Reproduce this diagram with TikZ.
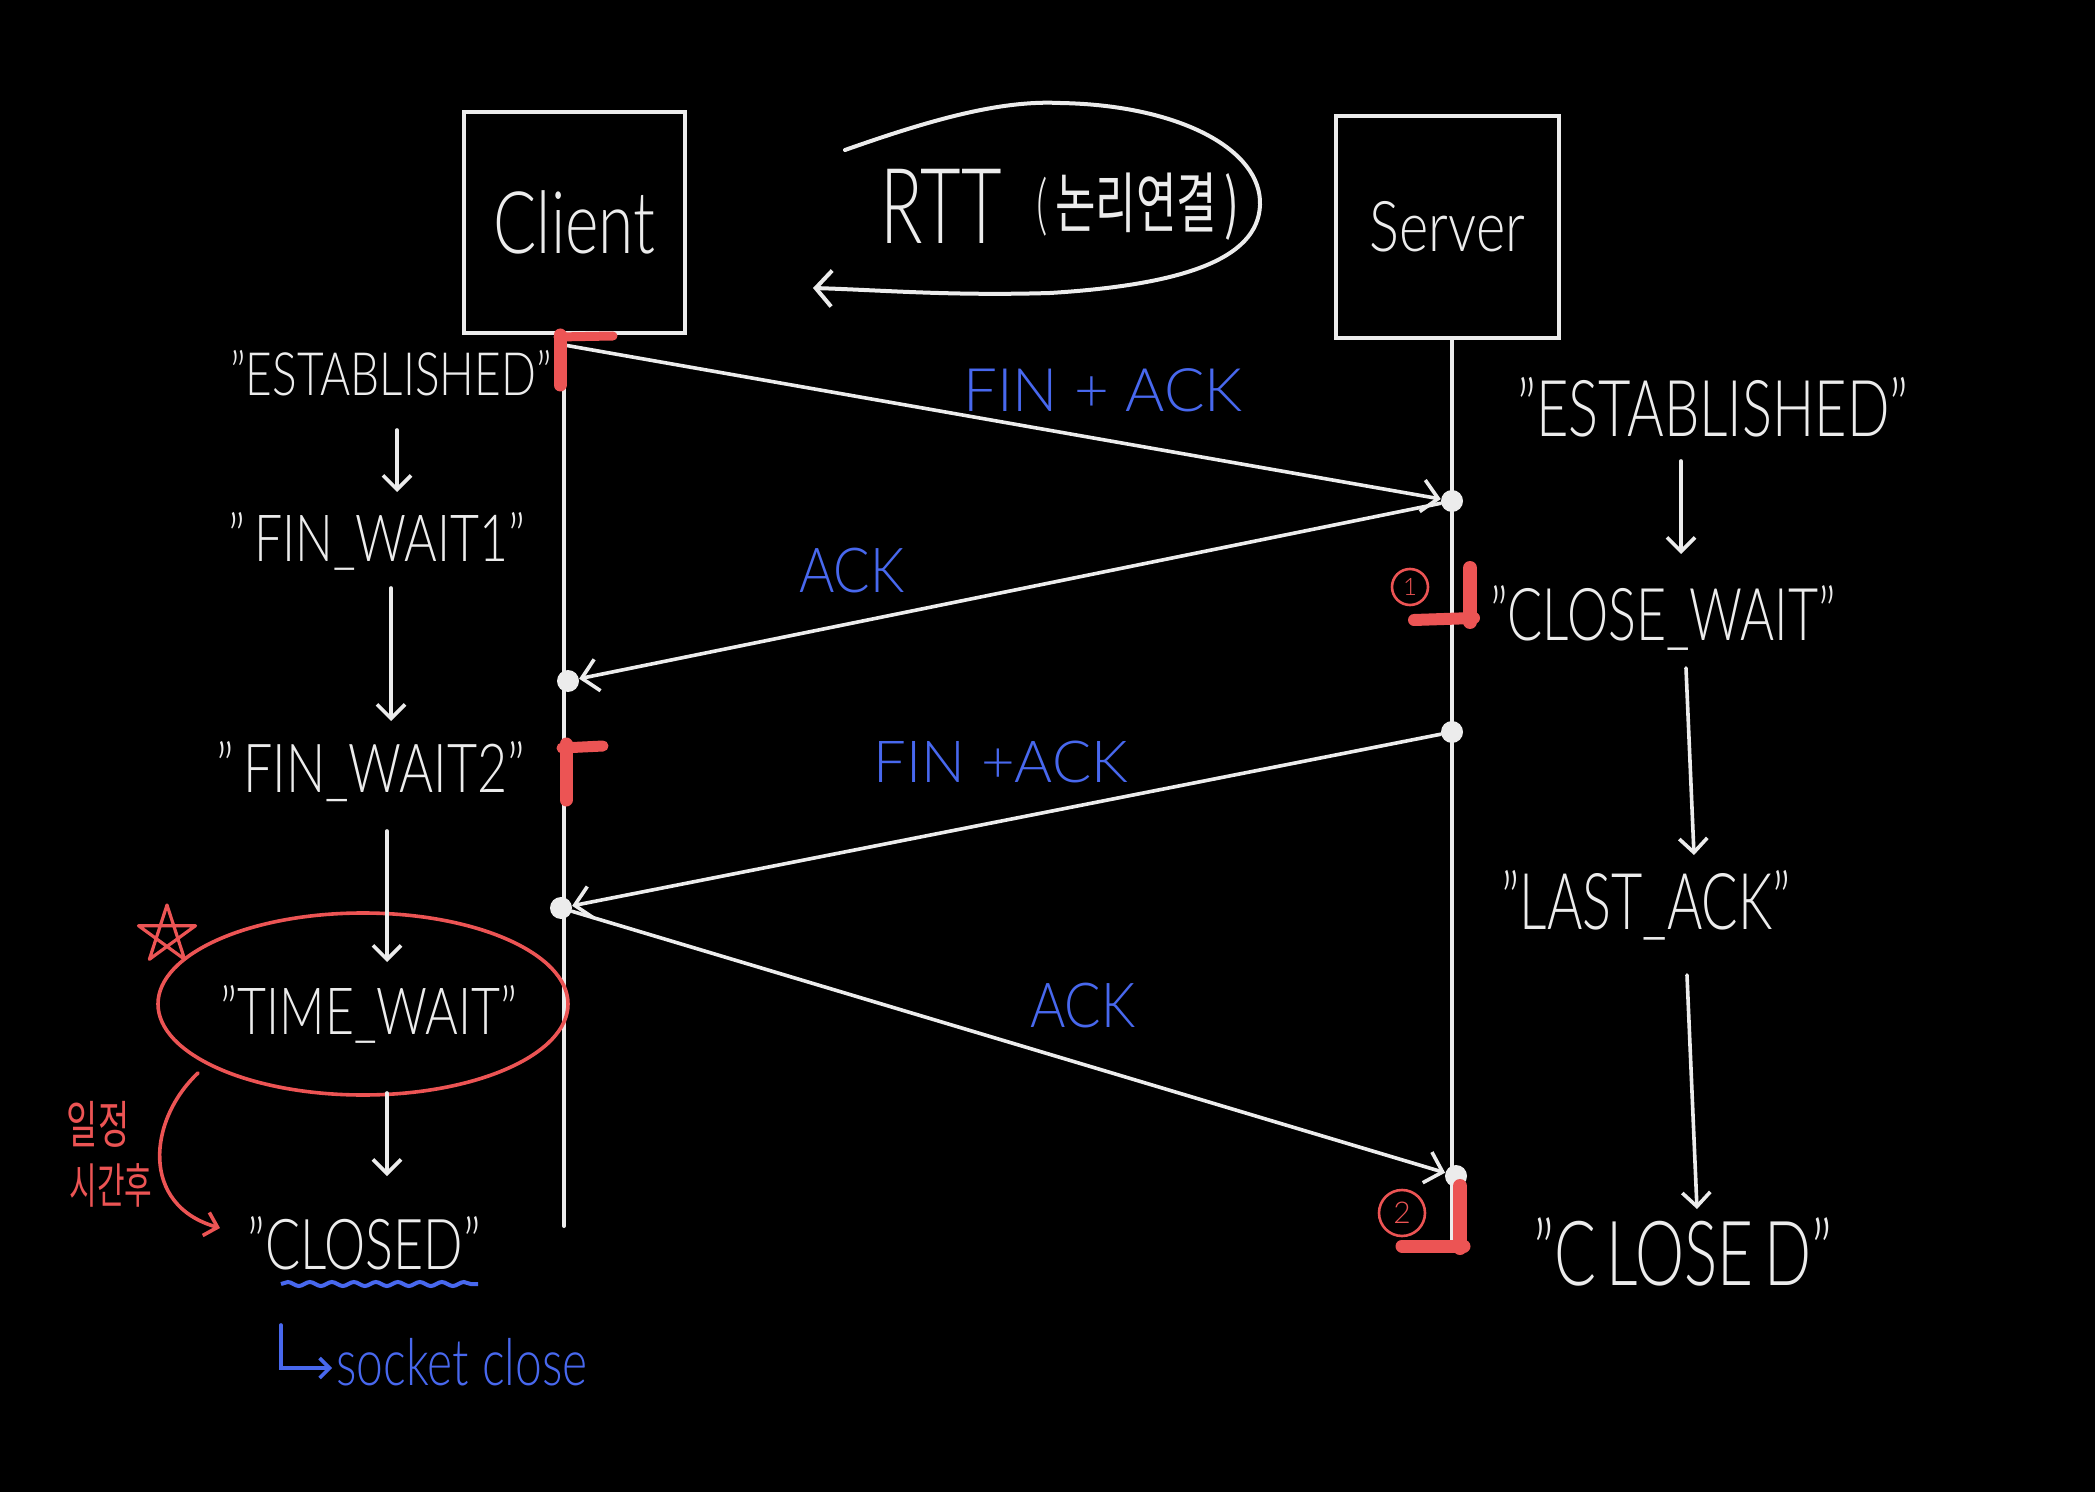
\documentclass[tikz,border=0pt]{standalone}
\usepackage{fontspec}
\usepackage{graphicx}
\setmainfont{Lato Light}
\newfontfamily\kr{Noto Sans CJK KR}
\usetikzlibrary{arrows.meta,shapes.geometric,decorations.pathmorphing}
\definecolor{chalk}{RGB}{236,236,236}
\definecolor{pblue}{RGB}{72,104,238}
\definecolor{pred}{RGB}{236,84,84}
\newcommand{\hwtext}[2]{\scalebox{1}[#1]{#2}}
\newcommand{\fsz}[1]{\fontsize{#1}{#1}\selectfont}
\tikzset{
 wline/.style={draw=chalk, line width=2pt, line cap=round},
 msg/.style={draw=chalk, line width=1.8pt, line cap=round, -{Straight Barb[length=8pt,width=16pt]}},
 sarr/.style={draw=chalk, line width=1.8pt, line cap=round, -{Straight Barb[length=7pt,width=14pt]}},
 state/.style={text=chalk, inner sep=0pt},
 lbl/.style={text=pblue, inner sep=0pt},
 dotn/.style={circle, fill=chalk, inner sep=0pt, minimum size=11pt},
 redmark/.style={draw=pred, line cap=round},
 lifebox/.style={draw=chalk, line width=2pt, inner sep=0pt, text=chalk},
 numc/.style={circle, draw=pred, line width=1.3pt, text=pred, inner sep=0pt},
}
\begin{document}
\begin{tikzpicture}[x=0.5pt,y=-0.5pt]
\useasboundingbox (0,0) rectangle (2095,1492);
\fill[black] (0,0) rectangle (2095,1492);

% boxes
\node[lifebox, minimum width=110.5pt, minimum height=110.5pt] (client) at (574.5,222.5) {\fsz{32}\hwtext{1.35}{Client}};
\node[lifebox, minimum width=111.5pt, minimum height=111pt] (server) at (1447.5,227) {\fsz{28}\hwtext{1.25}{Server}};

% lifelines
\coordinate (cend) at (564,1226);
\coordinate (send) at (1452,1245);
\draw[wline] (client.south -| cend) -- (cend);
\draw[wline] (server.south -| send) -- (send);

% message points
\coordinate (c1) at (564,345);
\node[dotn] (s1) at (1452,501) {};
\node[dotn] (c2) at (568,681) {};
\node[dotn] (s2) at (1452,732) {};
\node[dotn] (c3) at (561,908) {};
\node[dotn] (s3) at (1456,1176) {};

\draw[msg] (c1) -- (s1);
\draw[msg] (s1) -- (c2);
\draw[msg] (s2) -- (c3);
\draw[msg] (c3) -- (s3);

% message labels
\node[lbl] (m1) at (1103,390) {\fsz{30}FIN + ACK};
\node[lbl] (m2) at (852,571) {\fsz{27}\hwtext{1.15}{ACK}};
\node[lbl] (m3) at (1001,762) {\fsz{29}FIN +ACK};
\node[lbl] (m4) at (1083,1006) {\fsz{27}\hwtext{1.15}{ACK}};

% red marks
\draw[redmark, line width=6.5pt] (560,335) -- (560,385);
\draw[redmark, line width=4.5pt] (558,337) -- (613,336);
\draw[redmark, line width=6.5pt] (566,744) -- (566,800);
\draw[redmark, line width=5.5pt] (562,748) -- (603,746);
\draw[redmark, line width=7pt] (1470,568) -- (1470,622);
\draw[redmark, line width=6pt] (1414,620) -- (1474,618);
\draw[redmark, line width=7pt] (1460,1186) -- (1460,1248);
\draw[redmark, line width=6.5pt] (1402,1246) -- (1464,1246);
\node[numc, minimum size=18pt] (n1) at (1410,587) {\fsz{12}1};
\node[numc, minimum size=23pt] (n2) at (1402,1213) {\fsz{15}2};

% RTT
\node[text=chalk, inner sep=0pt] (rtt) at (941,206) {\fsz{35}\hwtext{1.5}{RTT}};
\node[text=chalk, inner sep=0pt] (rttk) at (1138,207) {\fsz{22}\hwtext{1.5}{(\kr\,논리연결\,)}};
\coordinate (lpS) at (845,150);
\coordinate (lpE) at (813,288);
\draw[wline, -{Straight Barb[length=8pt,width=18pt]}] (lpS) .. controls (930,120) and (1000,100) .. (1060,103)
  .. controls (1180,105) and (1262,150) .. (1260,205)
  .. controls (1258,260) and (1180,285) .. (1050,293)
  .. controls (950,296) and (880,290) .. (lpE);

% left states
\node[state] (lest) at (391,373) {\fsz{23}\hwtext{1.3}{"ESTABLISHED"}};
\node[state] (lfw1) at (377,541) {\fsz{25}\hwtext{1.3}{"\,FIN\_WAIT1"}};
\node[state] (lfw2) at (371,772) {\fsz{26}\hwtext{1.3}{"\,FIN\_WAIT2"}};
\node[state] (ltw) at (369,1014) {\fsz{25}\hwtext{1.3}{"TIME\_WAIT"}};
\node[state] (lcl) at (364,1243) {\fsz{26}\hwtext{1.35}{"CLOSED"}};
\node[draw=pred, line width=1.8pt, ellipse, minimum width=205pt, minimum height=91pt] (twell) at (363,1004) {};

\draw[sarr] ([shift={(6,57)}]lest.center) -- ([shift={(20,-49)}]lfw1.center);
\draw[sarr] ([shift={(14,47)}]lfw1.center) -- ([shift={(20,-51)}]lfw2.center);
\draw[sarr] ([shift={(16,59)}]lfw2.center) -- ([shift={(18,-52)}]ltw.center);
\draw[sarr] ([shift={(18,79)}]ltw.center) -- ([shift={(23,-67)}]lcl.center);

% right states
\node[state] (rest) at (1713,407) {\fsz{28}\hwtext{1.4}{"ESTABLISHED"}};
\node[state] (rcw) at (1663,618) {\fsz{26}\hwtext{1.4}{"CLOSE\_WAIT"}};
\node[state] (rla) at (1646,905) {\fsz{27}\hwtext{1.45}{"LAST\_ACK"}};
\node[state] (rcl) at (1683,1252) {\fsz{31}\hwtext{1.45}{"C\,LOSE\,D"}};

\draw[sarr] ([shift={(-32,54)}]rest.center) -- ([shift={(18,-64)}]rcw.center);
\draw[sarr] ([shift={(23,50)}]rcw.center) -- ([shift={(48,-50)}]rla.center);
\draw[sarr] ([shift={(41,70)}]rla.center) -- ([shift={(14,-43)}]rcl.center);

% red annotations
\draw[pred, line width=1.6pt, line join=round] (167,905) -- (149.4,959.3) -- (195.5,925.7) -- (138.5,925.7) -- (184.6,959.3) -- cycle;
\coordinate (rcS) at (198,1073);
\coordinate (rcE) at (220,1228);
\draw[pred, line width=1.8pt, line cap=round, -{Straight Barb[length=6pt,width=12pt]}] (rcS) .. controls (148,1120) and (140,1205) .. (rcE);
\node[text=pred, inner sep=0pt] (ilj) at (98,1124) {\kr\fsz{17}\hwtext{1.5}{일정}};
\node[text=pred, inner sep=0pt] (sig) at (111,1185) {\kr\fsz{15}\hwtext{1.6}{시간후}};

% socket close
\draw[pblue, line width=2pt, decorate, decoration={snake, amplitude=1pt, segment length=11pt}] (281,1284) -- (478,1284);
\node[text=pblue, inner sep=0pt] (sock) at (462,1362) {\fsz{24}\hwtext{1.35}{socket close}};
\coordinate (hk) at (281,1325);
\draw[pblue, line width=1.8pt, line cap=round, -{Straight Barb[length=5pt,width=10pt]}] (hk) |- ([xshift=-2pt,yshift=-3pt]sock.west);
\end{tikzpicture}
\end{document}
